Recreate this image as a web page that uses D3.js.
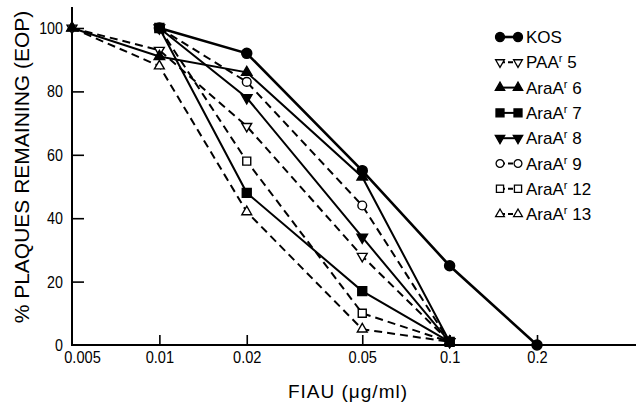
<!DOCTYPE html>
<html><head><meta charset="utf-8">
<script src="https://cdn.jsdelivr.net/npm/d3@7"></script>
<style>
html,body{margin:0;padding:0;background:#fff;}
svg text{font-family:"Liberation Sans",Arial,sans-serif;fill:#000;}
</style></head>
<body>
<svg id="chart" width="639" height="404"></svg>
<script>
// ---- data ----
const doses = [0.005, 0.01, 0.02, 0.05, 0.1, 0.2];
const xTickLabels = ["0.005", "0.01", "0.02", "0.05", "0.1", "0.2"];
const yTicks = [0, 20, 40, 60, 80, 100];

const seriesNames = ["KOS", "PAA|5", "AraA|6", "AraA|7", "AraA|8", "AraA|9", "AraA|12", "AraA|13"];
// values aligned with doses; null = not measured
const kos    = [null, 100, 92, 55, 25, 0];
const paa5   = [100, 93, 69, 28, 1, null];
const araA6  = [100, 91, 86, 53, 1, null];
const araA7  = [null, 100, 48, 17, 1, null];
const araA8  = [null, 100, 78, 34, 1, null];
const araA9  = [null, 100, 83, 44, 1, null];
const araA12 = [null, 100, 58, 10, 1, null];
const araA13 = [100, 88, 42, 5, 1, null];
const seriesValues = [kos, paa5, araA6, araA7, araA8, araA9, araA12, araA13];

// styles (not data)
const styles = [
  {sym: d3.symbolCircle,   size: 80, fill: true,  rot: 0,   dash: null, w: 2.6},
  {sym: d3.symbolTriangle, size: 42, fill: false, rot: 180, dash: "8,5", w: 2},
  {sym: d3.symbolTriangle, size: 48, fill: true,  rot: 0,   dash: null, w: 2},
  {sym: d3.symbolSquare,   size: 80, fill: true,  rot: 0,   dash: null, w: 2},
  {sym: d3.symbolTriangle, size: 48, fill: true,  rot: 180, dash: null, w: 2},
  {sym: d3.symbolCircle,   size: 60, fill: false, rot: 0,   dash: "8,5", w: 2},
  {sym: d3.symbolSquare,   size: 64, fill: false, rot: 0,   dash: "8,5", w: 2},
  {sym: d3.symbolTriangle, size: 42, fill: false, rot: 0,   dash: "8,5", w: 2}
];

const svg = d3.select("#chart");
const x = d3.scaleLog().domain([0.005, 0.2]).range([72, 537]);
const y = d3.scaleLinear().domain([0, 100]).range([345, 28]);

// axes lines
svg.append("line").attr("x1", 72).attr("x2", 72).attr("y1", y(0)).attr("y2", 7)
  .attr("stroke", "#000").attr("stroke-width", 2);
svg.append("line").attr("x1", 71).attr("x2", 636).attr("y1", y(0)).attr("y2", y(0))
  .attr("stroke", "#000").attr("stroke-width", 2);

// x axis ticks (inward)
const xAxis = d3.axisBottom(x).tickValues(doses).tickSizeInner(-10).tickSizeOuter(0)
  .tickFormat((d, i) => xTickLabels[i]).tickPadding(14);
const gx = svg.append("g").attr("transform", `translate(0,${y(0)})`).call(xAxis);
gx.select(".domain").remove();
gx.selectAll(".tick line").attr("stroke", "#000").attr("stroke-width", 1.6);
gx.selectAll(".tick text").attr("font-size", 17).attr("dy", "0.71em").attr("y", 6)
  .attr("transform", (d, i) => `translate(${i === 0 ? 10 : 0},0) scale(0.86,1)`);
gx.selectAll(".tick").filter(d => d === 0.005).select("line").remove();

// y axis ticks (inward)
const yAxis = d3.axisLeft(y).tickValues(yTicks).tickSizeInner(-12).tickSizeOuter(0).tickPadding(20);
const gy = svg.append("g").attr("transform", "translate(72,0)").call(yAxis);
gy.select(".domain").remove();
gy.selectAll(".tick line").attr("stroke", "#000").attr("stroke-width", 1.6);
gy.selectAll(".tick text").attr("font-size", 17).attr("x", 0).attr("text-anchor", "end")
  .attr("transform", "translate(-9,0) scale(0.84,1)");
gy.selectAll(".tick").filter(d => d === 0).select("line").remove();

// axis titles
svg.append("text").attr("transform", "translate(29,167) rotate(-90)")
  .attr("text-anchor", "middle").attr("font-size", 21)
  .text("% PLAQUES REMAINING (EOP)");
svg.append("text").attr("x", 348).attr("y", 398).attr("text-anchor", "middle")
  .attr("font-size", 19).attr("letter-spacing", 1)
  .text("FIAU (\u03BCg/ml)");

// lines
const line = d3.line().x(d => x(d.x)).y(d => y(d.v));
const series = seriesValues.map((vals, i) => ({
  name: seriesNames[i], st: styles[i],
  pts: vals.map((v, j) => ({x: doses[j], v: v}))
}));
svg.append("g").selectAll("path").data(series).join("path")
  .attr("d", s => line(s.pts.filter(p => p.v !== null)))
  .attr("fill", "none").attr("stroke", "#000")
  .attr("stroke-width", s => s.st.w)
  .attr("stroke-dasharray", s => s.st.dash);

// markers: open ones first, filled ones on top, KOS last
const order = [1, 5, 6, 7, 2, 4, 3, 0];
order.forEach(i => {
  const s = series[i];
  svg.append("g").selectAll("path").data(s.pts.filter(p => p.v !== null)).join("path")
    .attr("d", d3.symbol().type(s.st.sym).size(s.st.size))
    .attr("transform", p => `translate(${x(p.x)},${y(p.v)}) rotate(${s.st.rot})`)
    .attr("fill", s.st.fill ? "#000" : "#fff")
    .attr("stroke", "#000").attr("stroke-width", 1.4);
});

// legend
const lg = svg.append("g");
series.forEach((s, i) => {
  const yy = 37 + i * 25.3;
  lg.append("line").attr("x1", 500).attr("x2", 518).attr("y1", yy).attr("y2", yy)
    .attr("stroke", "#000").attr("stroke-width", s.st.w)
    .attr("stroke-dasharray", s.st.dash ? "5,3" : null);
  [500, 518].forEach(xx => {
    lg.append("path").attr("d", d3.symbol().type(s.st.sym).size(s.st.size * 0.8))
      .attr("transform", `translate(${xx},${yy}) rotate(${s.st.rot})`)
      .attr("fill", s.st.fill ? "#000" : "#fff").attr("stroke", "#000").attr("stroke-width", 1.3);
  });
  const t = lg.append("text").attr("x", 526).attr("y", yy + 6).attr("font-size", 17);
  const parts = s.name.split("|");
  t.append("tspan").text(parts[0]);
  if (parts.length > 1) {
    t.append("tspan").attr("font-size", 11).attr("dy", -6).text("r");
    t.append("tspan").attr("dy", 6).text(" " + parts[1]);
  }
});
</script>
</body></html>
